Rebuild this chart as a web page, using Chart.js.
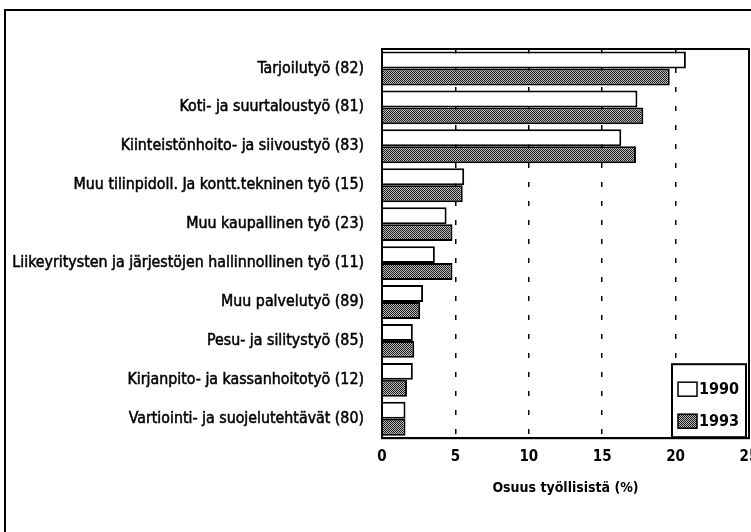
<!DOCTYPE html>
<html>
<head>
<meta charset="utf-8">
<script src="https://cdn.jsdelivr.net/npm/chart.js@4/dist/chart.umd.min.js"></script>
<style>
  html, body { margin: 0; padding: 0; background: #fff; overflow: hidden; }
</style>
</head>
<body>
<canvas id="chart" width="751" height="532"></canvas>
<script>
// Työllisten osuus ammattiryhmittäin, 1990 ja 1993

const categories = [
  "Tarjoilutyö (82)",
  "Koti- ja suurtaloustyö (81)",
  "Kiinteistönhoito- ja siivoustyö (83)",
  "Muu tilinpidoll. Ja kontt.tekninen työ (15)",
  "Muu kaupallinen työ (23)",
  "Liikeyritysten ja järjestöjen hallinnollinen työ (11)",
  "Muu palvelutyö (89)",
  "Pesu- ja silitystyö (85)",
  "Kirjanpito- ja kassanhoitotyö (12)",
  "Vartiointi- ja suojelutehtävät (80)"
];
const values1990 = [20.7, 17.4, 16.3, 5.6, 4.4, 3.6, 2.8, 2.1, 2.1, 1.6];
const values1993 = [19.6, 17.8, 17.3, 5.5, 4.8, 4.8, 2.6, 2.2, 1.7, 1.6];
const xTicks = [0, 5, 10, 15, 20, 25];

const FONT = "'Liberation Sans Narrow', 'DejaVu Sans Condensed', sans-serif";

// halftone fill like the printed original
function makeHatch() {
  const c = document.createElement("canvas");
  c.width = 2; c.height = 2;
  const g = c.getContext("2d");
  g.fillStyle = "#bdbdbd"; g.fillRect(0, 0, 2, 2);
  g.fillStyle = "#1a1a1a"; g.fillRect(0, 0, 1, 1); g.fillRect(1, 1, 1, 1);
  return g.createPattern(c, "repeat");
}

const hatch = makeHatch();

// page frame (only left and top edges are visible in the scan) + box round the plot
const frames = {
  id: "frames",
  afterDraw(chart) {
    const a = chart.chartArea, ctx = chart.ctx;
    ctx.save();
    ctx.strokeStyle = "#000";
    ctx.lineWidth = 2;
    ctx.beginPath();
    ctx.moveTo(5, chart.height);
    ctx.lineTo(5, 10);
    ctx.lineTo(chart.width, 10);
    ctx.stroke();
    ctx.strokeRect(a.left, a.top, a.right - a.left, a.bottom - a.top);
    ctx.restore();
  }
};

// legend sits inside the plot, bottom right
const innerLegend = {
  id: "innerLegend",
  afterDraw(chart) {
    const a = chart.chartArea, ctx = chart.ctx;
    const w = 74, h = 73;
    const x = a.right - w - 3, y = a.bottom - h - 1;
    ctx.save();
    ctx.fillStyle = "#fff";
    ctx.fillRect(x, y, w, h);
    ctx.strokeStyle = "#000";
    ctx.lineWidth = 2;
    ctx.strokeRect(x, y, w, h);
    chart.data.datasets.forEach((ds, i) => {
      const ry = y + 25 + i * 32;
      ctx.fillStyle = ds.backgroundColor;
      ctx.fillRect(x + 6, ry - 7, 19, 14);
      ctx.lineWidth = 1.5;
      ctx.strokeRect(x + 6, ry - 7, 19, 14);
      ctx.fillStyle = "#000";
      ctx.font = "bold 16px " + FONT;
      ctx.textBaseline = "middle";
      ctx.fillText(ds.label, x + 27, ry + 1);
    });
    ctx.restore();
  }
};

new Chart(document.getElementById("chart"), {
  type: "bar",
  data: {
    labels: categories,
    datasets: [
      { label: "1990", data: values1990, backgroundColor: "#fff", borderColor: "#000", borderWidth: 2 },
      { label: "1993", data: values1993, backgroundColor: hatch, borderColor: "#000", borderWidth: 2 }
    ]
  },
  options: {
    indexAxis: "y",
    responsive: false,
    animation: false,
    layout: { padding: { top: 49, right: 2, bottom: 31, left: 9 } },
    datasets: { bar: { categoryPercentage: 0.87, barPercentage: 1.0 } },
    plugins: { legend: { display: false }, tooltip: { enabled: false } },
    scales: {
      x: {
        min: 0, max: 25,
        afterBuildTicks(axis) { axis.ticks = xTicks.map(v => ({ value: v })); },
        // let the "25" run off the page like in the scan
        afterFit(axis) { axis.paddingRight = 0; },
        grid: { color: "#000", lineWidth: 1.5, drawTicks: false },
        border: { display: true, color: "#000", width: 2, dash: [5, 14] },
        ticks: { color: "#000", padding: 10, font: { family: FONT, size: 15, weight: "bold" } },
        title: {
          display: true, text: "Osuus työllisistä (%)", color: "#000",
          padding: { top: 4 }, font: { family: FONT, size: 14, weight: "bold" }
        }
      },
      y: {
        // long labels: keep the axis wider than Chart.js' half-width cap
        afterFit(axis) { axis.width = 373; },
        grid: { display: false, drawTicks: false },
        border: { display: true, color: "#000", width: 2 },
        ticks: {
          color: "#000", padding: 18, textStrokeColor: "#000", textStrokeWidth: 0.5,
          font: { family: FONT, size: 15.8 }
        }
      }
    }
  },
  plugins: [frames, innerLegend]
});
</script>
</body>
</html>
